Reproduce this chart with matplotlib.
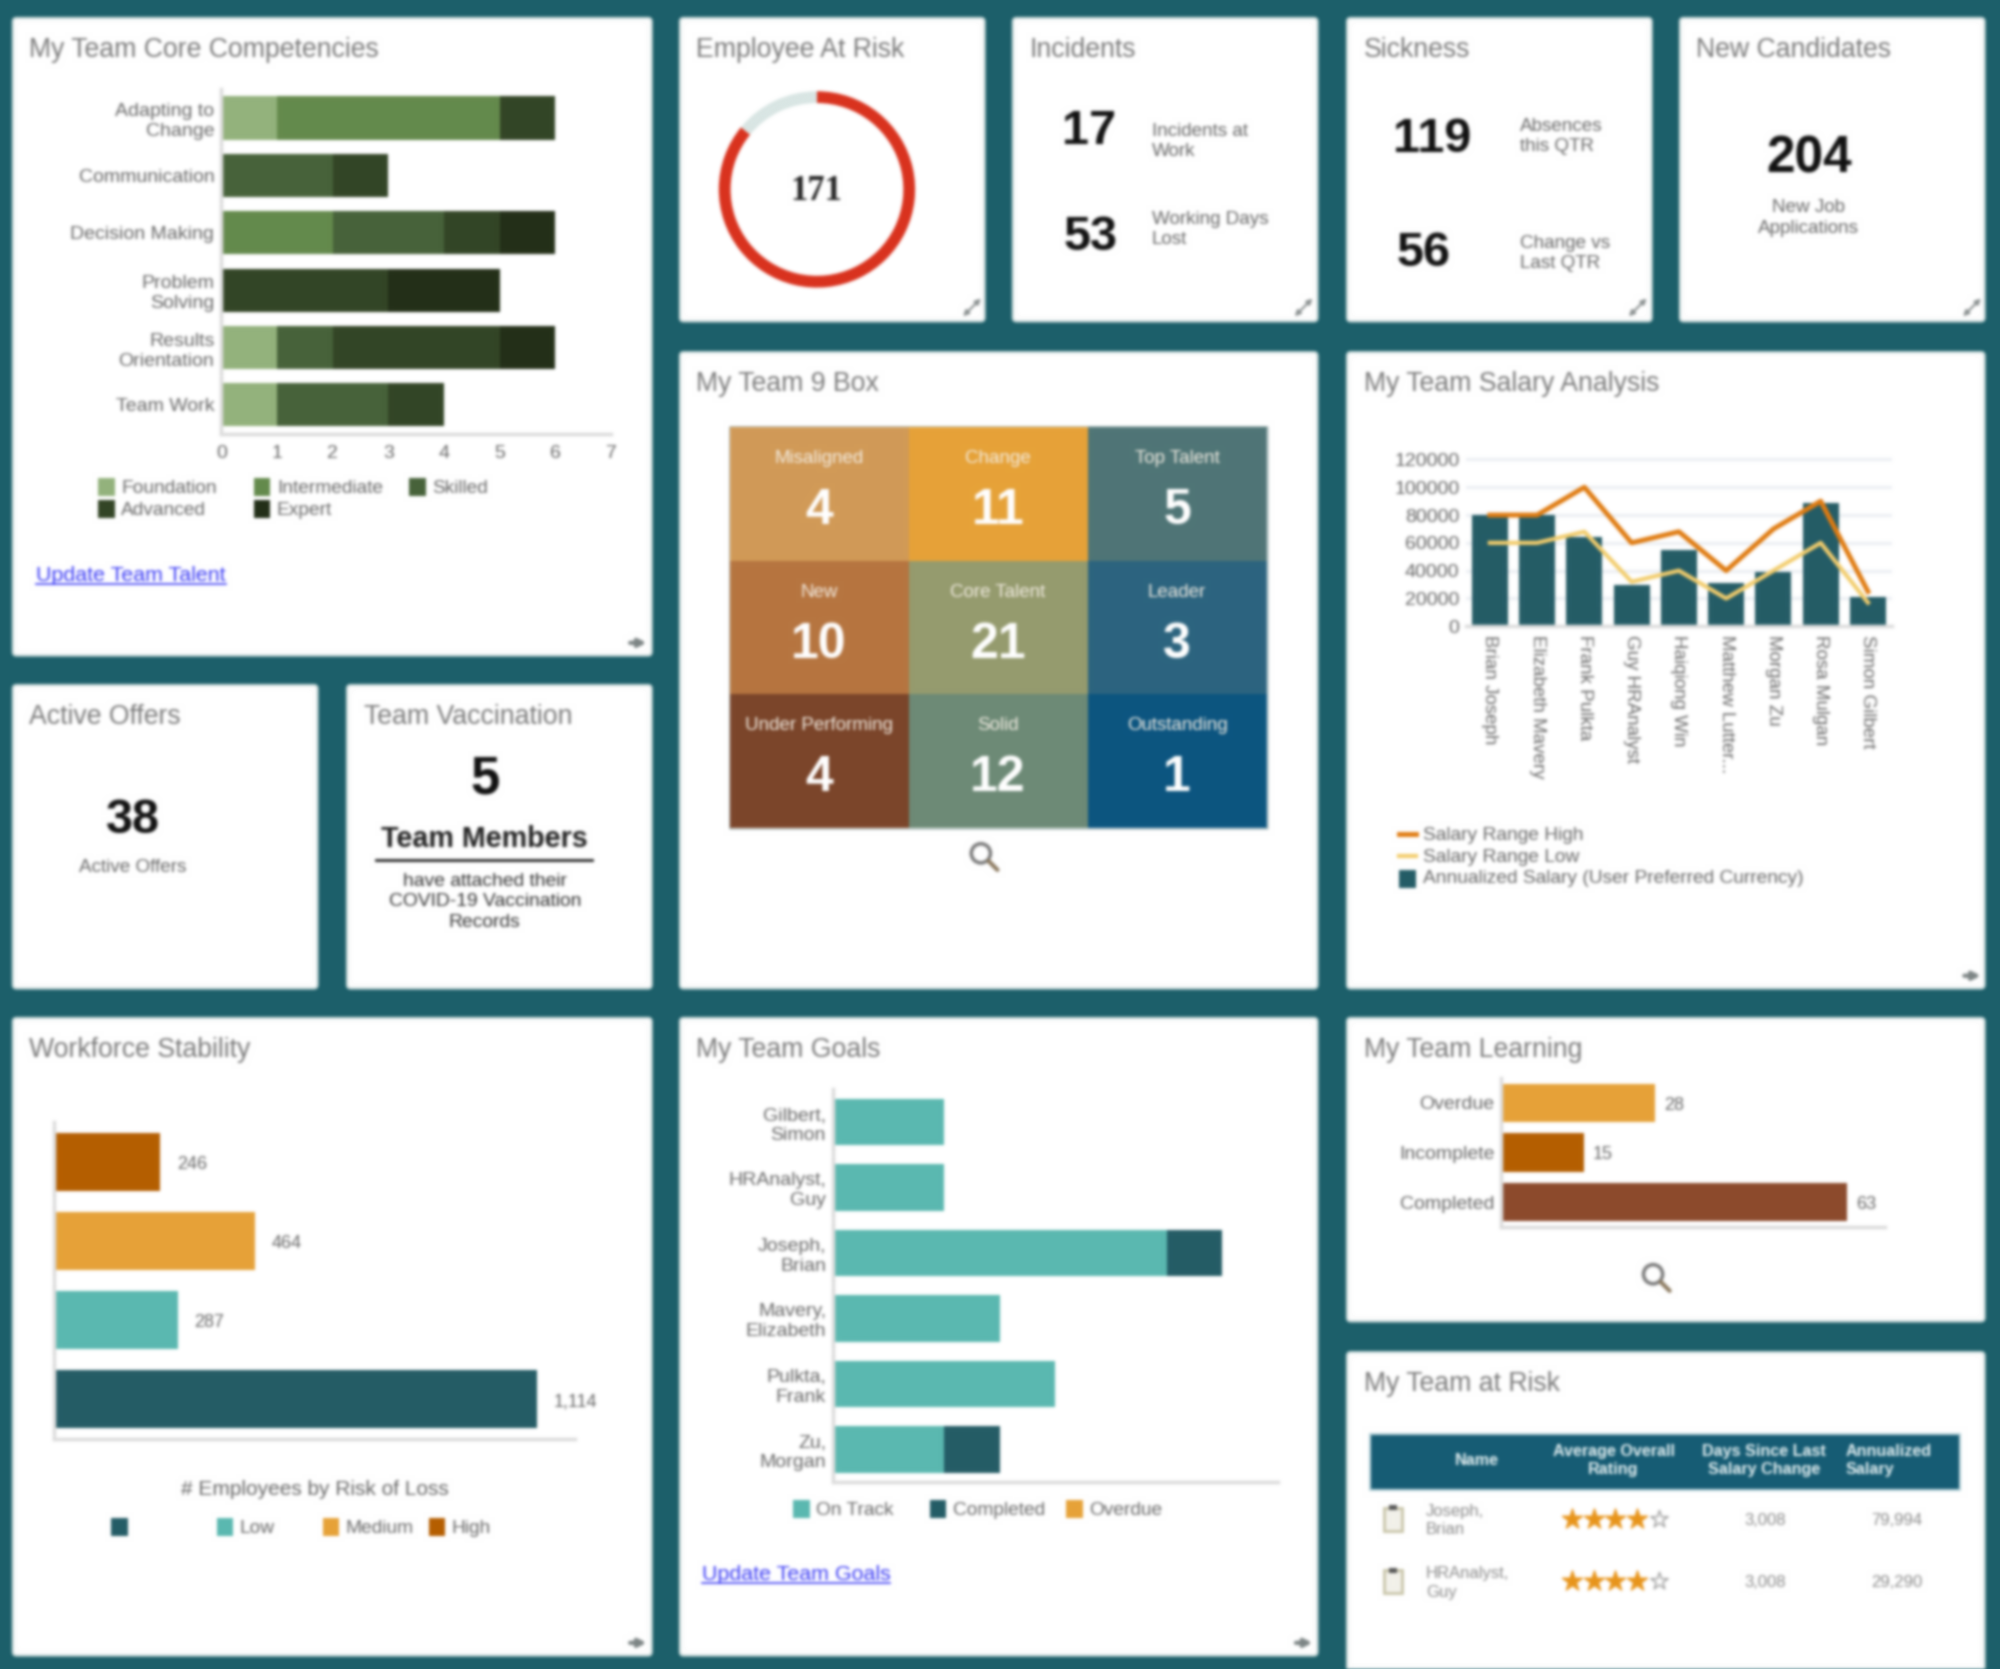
import matplotlib
matplotlib.use('Agg')
import matplotlib.pyplot as plt
import numpy as np
from matplotlib.colors import ListedColormap
from matplotlib.patches import FancyBboxPatch, Rectangle, Circle

plt.rcParams['font.family'] = ['Liberation Sans', 'DejaVu Sans']

# layout is worked out in a 1568 wide canvas, same shape as the final picture
W, H = 1568, 1308.5
TEAL_BG = '#1c5f6a'
GREY_TXT = '#666666'
TITLE_TXT = '#7a7a7a'
DARK_TEAL = '#245c66'
LIGHT_TEAL = '#5ab8b0'
ORANGE = '#e6a238'
BURNT = '#b55e00'

# My Team Core Competencies
comp_names = ['Adapting to\nChange', 'Communication', 'Decision Making',
              'Problem\nSolving', 'Results\nOrientation', 'Team Work']
comp_levels = ['Foundation', 'Intermediate', 'Skilled', 'Advanced', 'Expert']
comp_colors = ['#93b27c', '#648a4c', '#47623a', '#334526', '#232f18']
comp_foundation = [1, 0, 0, 0, 1, 1]
comp_intermediate = [4, 0, 2, 0, 0, 0]
comp_skilled = [0, 2, 2, 0, 1, 2]
comp_advanced = [1, 1, 1, 3, 3, 1]
comp_expert = [0, 0, 1, 2, 1, 0]

# Employee At Risk
risk_value = 171
risk_rest = 28

# 9 box
box_labels = [['Misaligned', 'Change', 'Top Talent'],
              ['New', 'Core Talent', 'Leader'],
              ['Under Performing', 'Solid', 'Outstanding']]
box_counts = [[4, 11, 5], [10, 21, 3], [4, 12, 1]]
box_colors = ['#d19a57', '#e6a238', '#4f7576',
              '#b67540', '#959b6e', '#2c647f',
              '#7b452a', '#6d8a76', '#0c5580']

# Salary analysis
sal_names = ['Brian Joseph', 'Elizabeth Mavery', 'Frank Pulkta', 'Guy HRAnalyst',
             'Haiqiong Win', 'Matthew Lutter...', 'Morgan Zu', 'Rosa Mulgan', 'Simon Gilbert']
sal_annual = [80000, 80000, 64000, 30000, 55000, 31000, 39000, 89000, 21000]
sal_high = [80000, 80000, 100000, 60000, 68000, 40000, 70000, 90000, 25000]
sal_low = [60000, 60000, 68000, 32000, 40000, 20000, 40000, 60000, 17000]

# Workforce stability
stab_labels = ['High', 'Medium', 'Low', '']
stab_values = [246, 464, 287, 1114]
stab_colors = [BURNT, ORANGE, LIGHT_TEAL, DARK_TEAL]

# Team goals
goal_names = ['Gilbert,\nSimon', 'HRAnalyst,\nGuy', 'Joseph,\nBrian',
              'Mavery,\nElizabeth', 'Pulkta,\nFrank', 'Zu,\nMorgan']
goal_on_track = [2, 2, 6, 3, 4, 2]
goal_completed = [0, 0, 1, 0, 0, 1]

# Learning
learn_names = ['Overdue', 'Incomplete', 'Completed']
learn_values = [28, 15, 63]
learn_colors = [ORANGE, BURNT, '#8c4a2c']

# Team at risk
risk_names = ['Joseph,\nBrian', 'HRAnalyst,\nGuy']
risk_ratings = [4, 4]
risk_days = ['3,008', '3,008']
risk_salary = ['79,994', '29,290']

fig = plt.figure(figsize=(20, 16.69), dpi=100, facecolor=TEAL_BG)
canvas = fig.add_axes([0, 0, 1, 1])
canvas.set_xlim(0, W)
canvas.set_ylim(H, 0)
canvas.axis('off')


def panel(x0, y0, x1, y1):
    ax = fig.add_axes([x0 / W, 1 - y1 / H, (x1 - x0) / W, (y1 - y0) / H])
    ax.patch.set_alpha(0)
    for s in ['top', 'right']:
        ax.spines[s].set_visible(False)
    for s in ['left', 'bottom']:
        ax.spines[s].set_color('#dcdcdc')
        ax.spines[s].set_linewidth(2.5)
    ax.tick_params(length=0, labelcolor=GREY_TXT, labelsize=14, pad=5)
    return ax


def card(x0, y0, x1, y1, title):
    canvas.add_patch(FancyBboxPatch((x0 + 2, y0 + 2), x1 - x0 - 4, y1 - y0 - 4,
                                    boxstyle='round,pad=2,rounding_size=3',
                                    fc='white', ec='#c4d6d6', lw=1.5))
    canvas.text(x0 + 13, y0 + 25, title, fontsize=19.2, color=TITLE_TXT, va='center')


def expand_icon(x, y):
    canvas.annotate('', xy=(x + 7, y - 7), xytext=(x - 7, y + 7),
                    arrowprops=dict(arrowstyle='<|-|>', color='#8a9090', lw=1.5, mutation_scale=8,
                                    shrinkA=0, shrinkB=0))


def nav_icon(x, y):
    canvas.annotate('', xy=(x + 7, y), xytext=(x - 6, y),
                    arrowprops=dict(arrowstyle='-|>', color='#7d8585', lw=3, mutation_scale=11,
                                    shrinkA=0, shrinkB=0))


def magnifier(x, y):
    canvas.add_patch(Circle((x - 2, y - 2), 7.5, fc='none', ec='#777777', lw=2.5))
    canvas.plot([x + 4, x + 11], [y + 4, y + 11], color='#8c7a60', lw=3, solid_capstyle='round')


def swatch(x, y, color, label=''):
    canvas.add_patch(Rectangle((x, y - 7), 13, 14, fc=color, ec='none'))
    if label:
        canvas.text(x + 18, y + 1, label, fontsize=13.8, color=GREY_TXT, va='center')


def link(x0, x1, y, label):
    canvas.text(x0, y + 1.5, label, fontsize=15.4, color='#3a3af5', va='center')
    canvas.plot([x0, x1], [y + 8, y + 8], color='#3a3af5', lw=1.2)


def kpi(x, y, value, size=35):
    canvas.text(x, y + 3, str(value), fontsize=size, fontweight='bold', color='#111111',
                ha='center', va='center')


def note(x, y, label, ha='left'):
    canvas.text(x, y + 1, label, fontsize=13.6, color=GREY_TXT, ha=ha, va='center',
                linespacing=1.25, multialignment='left' if ha == 'left' else 'center')


def blur(img, dpi):
    # the reference is a soft upscaled screenshot, so soften each layer the same way
    pad = 6
    weights = np.exp(-0.5 * (np.arange(-pad, pad + 1) / 1.5) ** 2)
    weights = weights / weights.sum()
    img = np.pad(img, ((pad, pad), (pad, pad), (0, 0)))
    alpha = img[..., 3:]
    stack = np.concatenate([img[..., :3] * alpha, alpha], axis=2)
    for axis in (0, 1):
        out = np.zeros_like(stack)
        for shift, w in zip(range(-pad, pad + 1), weights):
            out += w * np.roll(stack, shift, axis=axis)
        stack = out
    a = np.clip(stack[..., 3:], 1e-4, 1)
    rgb = np.clip(stack[..., :3] / a, 0, 1)
    return np.concatenate([rgb, a], axis=2), -pad, -pad


card(10, 14, 511, 514, 'My Team Core Competencies')
card(533, 14, 772, 252, 'Employee At Risk')
card(794, 14, 1033, 252, 'Incidents')
card(1056, 14, 1295, 252, 'Sickness')
card(1317, 14, 1556, 252, 'New Candidates')
card(533, 276, 1033, 775, 'My Team 9 Box')
card(1056, 276, 1556, 775, 'My Team Salary Analysis')
card(10, 537, 249, 775, 'Active Offers')
card(272, 537, 511, 775, 'Team Vaccination')
card(10, 798, 511, 1298, 'Workforce Stability')
card(533, 798, 1033, 1298, 'My Team Goals')
card(1056, 798, 1556, 1036, 'My Team Learning')
card(1056, 1060, 1556, 1330, 'My Team at Risk')

for ix, iy in [(762, 241), (1022, 241), (1284, 241), (1546, 241)]:
    expand_icon(ix, iy)
for ix, iy in [(500, 504), (1546, 765), (500, 1288), (1022, 1288)]:
    nav_icon(ix, iy)

# core competencies
ax = panel(173.5, 70, 479, 340)
ypos = np.arange(len(comp_names))
left = np.zeros(len(comp_names))
series = [comp_foundation, comp_intermediate, comp_skilled, comp_advanced, comp_expert]
for vals, col in zip(series, comp_colors):
    ax.barh(ypos, vals, left=left, height=0.75, color=col)
    left = left + np.array(vals)
ax.set_xlim(0, 7)
ax.set_ylim(len(comp_names) - 0.5, -0.5)
ax.set_yticks(ypos)
ax.set_yticklabels(comp_names, linespacing=1.25)
ax.set_xticks(range(8))
ax.tick_params(axis='x', pad=8)

for (sx, sy), lev, col in zip([(77, 382), (199, 382), (321, 382), (77, 399), (199, 399)],
                              comp_levels, comp_colors):
    swatch(sx, sy, col, lev)
link(28, 177, 450, 'Update Team Talent')

# donut
ax = fig.add_axes([(640.5 - 78.5) / W, 1 - (148.5 + 78.5) / H, 157 / W, 157 / H])
ax.pie([risk_value, risk_rest], colors=['#d9321e', '#d9e6e4'], startangle=90, counterclock=False,
       radius=1.0, wedgeprops=dict(width=0.12))
ax.set_xlim(-1.02, 1.02)
ax.set_ylim(-1.02, 1.02)
canvas.text(640, 150, str(risk_value), fontsize=25, fontweight='bold', family='Liberation Serif',
            color='#222222', ha='center', va='center')

# single number cards
kpi(854, 100, 17)
kpi(855, 183, 53)
note(903, 110, 'Incidents at\nWork')
note(903, 179, 'Working Days\nLost')
kpi(1123, 106, 119)
kpi(1116, 196, 56)
note(1192, 106, 'Absences\nthis QTR')
note(1192, 198, 'Change vs\nLast QTR')
kpi(1418, 122, 204, 37)
note(1418, 170, 'New Job\nApplications', ha='center')
kpi(104, 640, 38)
note(104, 679, 'Active Offers', ha='center')
kpi(380, 608, 5, 38)
canvas.text(380, 658, 'Team Members', fontsize=20.6, fontweight='bold', color='#222222', ha='center', va='center')
canvas.plot([295, 464], [674, 674], color='#222222', lw=2)
canvas.text(380, 707, 'have attached their\nCOVID-19 Vaccination\nRecords', fontsize=13.9, color='#333333',
            ha='center', va='center', linespacing=1.25)

# 9 box
ax = fig.add_axes([572 / W, 1 - 649 / H, 421 / W, 314 / H])
ax.pcolormesh(np.arange(9).reshape(3, 3), cmap=ListedColormap(box_colors), edgecolors='face', linewidth=0)
ax.set_xlim(0, 3)
ax.set_ylim(3, 0)
ax.axis('off')
for r in range(3):
    for c in range(3):
        ax.text(c + 0.5, r + 0.235, box_labels[r][c], color='#f4eee4', fontsize=13.5,
                ha='center', va='center')
        ax.text(c + 0.5, r + 0.63, str(box_counts[r][c]), color='white', fontsize=36,
                fontweight='bold', ha='center', va='center')
canvas.add_patch(Rectangle((572, 335), 421, 314, fc='none', ec='#c6d2d2', lw=2))
magnifier(771, 671)

# salary
ax = panel(1149.5, 358, 1483, 491)
xpos = np.arange(len(sal_names))
ax.bar(xpos, sal_annual, width=0.76, color=DARK_TEAL, zorder=2)
ax.plot(xpos, sal_high, color='#e07b10', lw=3.5, zorder=3)
ax.plot(xpos, sal_low, color='#f3cd6c', lw=3, zorder=3)
ax.set_xlim(-0.5, len(sal_names) - 0.5)
ax.set_ylim(0, 122000)
ax.set_yticks(range(0, 120001, 20000))
ax.grid(axis='y', color='#eef1f5', lw=2.5, zorder=0)
ax.spines['left'].set_visible(False)
ax.set_xticks(xpos)
ax.set_xticklabels(sal_names, rotation=270, ha='center', va='top', fontsize=13.5)
ax.tick_params(axis='x', pad=6)
canvas.plot([1097, 1110], [654, 654], color='#e07b10', lw=3.5)
canvas.plot([1097, 1110], [671, 671], color='#f3cd6c', lw=3)
canvas.text(1116, 655, 'Salary Range High', fontsize=13.8, color=GREY_TXT, va='center')
canvas.text(1116, 672, 'Salary Range Low', fontsize=13.8, color=GREY_TXT, va='center')
canvas.add_patch(Rectangle((1097, 682), 13, 14, fc=DARK_TEAL, ec='none'))
canvas.text(1116, 689, 'Annualized Salary (User Preferred Currency)', fontsize=13.8, color=GREY_TXT, va='center')

# workforce stability
ax = panel(42, 880, 451, 1128)
ypos = np.arange(len(stab_values))
ax.barh(ypos, stab_values, height=0.74, color=stab_colors)
for yy, val in zip(ypos, stab_values):
    ax.text(val + 38, yy + 0.03, f'{val:,}', fontsize=13, color=GREY_TXT, va='center')
ax.set_xlim(0, 1203)
ax.set_ylim(len(stab_values) - 0.5, -0.5)
ax.set_xticks([])
ax.set_yticks([])
canvas.text(247, 1168, '# Employees by Risk of Loss', fontsize=15, color=GREY_TXT, ha='center', va='center')
for sx, lab, col in zip([87, 170, 253, 336], stab_labels[::-1], stab_colors[::-1]):
    swatch(sx, 1197, col, lab)

# goals
ax = panel(653, 854, 1002, 1162)
ypos = np.arange(len(goal_names))
ax.barh(ypos, goal_on_track, height=0.71, color=LIGHT_TEAL)
ax.barh(ypos, goal_completed, left=goal_on_track, height=0.71, color=DARK_TEAL)
ax.set_xlim(0, 8)
ax.set_ylim(len(goal_names) - 0.5, -0.5)
ax.set_xticks([])
ax.set_yticks(ypos)
ax.set_yticklabels(goal_names, linespacing=1.2)
for sx, lab, col in zip([622, 729, 836], ['On Track', 'Completed', 'Overdue'], [LIGHT_TEAL, DARK_TEAL, ORANGE]):
    swatch(sx, 1183, col, lab)
link(550, 698, 1233, 'Update Team Goals')

# learning
ax = panel(1177, 845, 1478, 962)
ypos = np.arange(len(learn_names))
ax.barh(ypos, learn_values, height=0.77, color=learn_colors)
for yy, val in zip(ypos, learn_values):
    ax.text(val + 1.7, yy + 0.05, str(val), fontsize=13, color=GREY_TXT, va='center')
ax.set_xlim(0, 70)
ax.set_ylim(len(learn_names) - 0.5, -0.5)
ax.set_xticks([])
ax.set_yticks(ypos)
ax.set_yticklabels(learn_names)
magnifier(1298, 1001)

# team at risk table
canvas.add_patch(Rectangle((1074, 1124), 463, 44, fc='#165c74', ec='#b9d3da', lw=1.5))
for hx, lab in [(1158, 'Name'), (1265, 'Average Overall\nRating'), (1383, 'Days Since Last\nSalary Change')]:
    canvas.text(hx, 1145, lab, fontsize=11.6, fontweight='bold', color='#e4f0f2', ha='center', va='center', linespacing=1.25)
canvas.text(1447, 1145, 'Annualized\nSalary', fontsize=11.6, fontweight='bold', color='#e4f0f2', ha='left', va='center', linespacing=1.25)
row_y = [1191, 1240]
for ry, nm, days, sal in zip(row_y, risk_names, risk_days, risk_salary):
    canvas.add_patch(Rectangle((1085, ry - 9), 14, 18, fc='#f2f1ea', ec='#c8c4a8', lw=2))
    canvas.add_patch(Rectangle((1089, ry - 11), 6, 4, fc='#555555', ec='none'))
    canvas.text(1118, ry + 1, nm, fontsize=12, color='#8a8a8a', va='center', linespacing=1.3)
    canvas.text(1384, ry + 1, days, fontsize=12, color='#8a8a8a', ha='center', va='center')
    canvas.text(1487, ry + 1, sal, fontsize=12, color='#8a8a8a', ha='center', va='center')
ax = panel(1224, 1176, 1309, 1254)
ax.axis('off')
for rr, rating in enumerate(risk_ratings):
    pos = np.arange(5)
    ax.scatter(pos[:rating], [rr] * rating, marker='*', s=230, color='#e8941a', zorder=2)
    ax.scatter(pos[rating:], [rr] * (5 - rating), marker='*', s=170, facecolors='white', edgecolors='#9a9a9a', zorder=2)
ax.set_xlim(-0.5, 4.5)
ax.set_ylim(1.3, -0.3)

for a in fig.axes:
    a.set_agg_filter(blur)

fig.savefig('out.png', dpi=100, facecolor=TEAL_BG)
